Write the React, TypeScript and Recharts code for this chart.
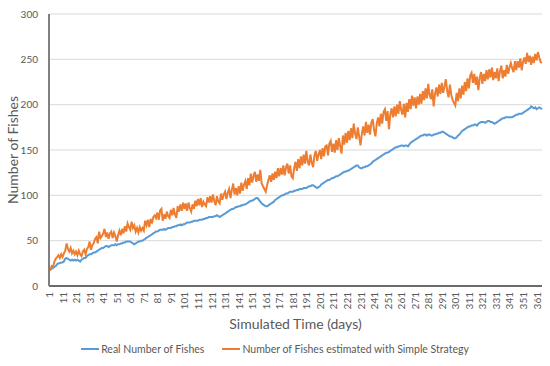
import React from "react";
import { LineChart, Line, XAxis, YAxis, CartesianGrid, Legend } from "recharts";

const realFishes: number[] = [
  17,18,19,20,21,22,24,25,25,26,
  26,27,30,31,30,29,28,29,28,29,
  28,29,28,27,29,30,31,31,33,34,
  35,35,36,37,37,38,39,40,41,42,
  42,43,44,44,43,44,45,45,45,46,
  45,46,46,47,47,48,48,49,49,49,
  49,48,47,46,47,48,49,49,50,50,
  51,52,53,54,55,56,57,58,59,60,
  60,61,62,62,62,63,62,63,64,64,
  64,65,65,66,66,67,67,68,67,68,
  68,69,70,70,70,71,71,72,72,72,
  72,73,73,73,74,74,75,75,76,76,
  76,76,77,77,78,77,76,77,78,79,
  80,81,82,83,84,85,85,86,87,87,
  88,88,89,89,90,90,91,92,93,94,
  94,95,96,97,97,95,93,91,90,89,
  88,88,89,90,91,92,93,95,96,97,
  98,99,100,100,101,102,102,103,104,104,
  104,105,105,106,106,107,107,107,108,108,
  108,109,110,110,111,111,110,109,108,109,
  110,112,113,114,115,116,117,117,118,119,
  119,120,121,121,122,123,124,125,126,126,
  127,127,128,129,130,131,132,133,133,131,
  130,130,131,131,132,132,133,134,135,137,
  138,139,140,141,142,143,144,145,146,147,
  147,148,149,150,151,152,153,153,154,154,
  155,155,154,155,155,154,156,158,159,160,
  161,162,163,164,165,166,166,167,167,166,
  167,167,166,166,167,167,168,168,169,169,
  170,170,169,168,167,166,165,165,164,163,
  163,164,166,167,169,171,172,173,174,175,
  176,176,177,177,178,178,177,179,180,181,
  181,181,180,181,182,182,181,181,180,179,
  180,181,182,183,184,185,185,186,186,186,
  186,186,186,187,188,189,189,190,190,190,
  191,192,193,194,195,196,198,197,196,197,
  195,196,197,196,195,
];

const estimatedFishes: number[] = [
  19,18,22,21,27,30,32,34,31,35,
  32,36,39,47,41,38,42,36,39,35,
  38,34,39,35,33,38,40,35,41,43,
  49,40,45,47,52,54,47,60,53,55,
  58,63,54,59,52,58,60,53,59,55,
  49,56,61,56,63,58,66,60,69,65,
  62,71,64,67,60,64,59,65,61,64,
  61,72,67,73,65,74,69,76,78,75,
  81,73,83,85,72,79,74,82,77,75,
  84,78,86,79,75,88,82,90,83,92,
  85,91,83,92,86,82,90,85,94,88,
  96,89,97,87,93,90,88,98,92,99,
  92,101,94,89,99,93,91,102,95,101,
  104,96,103,107,97,106,113,101,108,100,
  110,102,114,105,112,116,107,119,111,124,
  114,121,126,115,123,116,128,113,110,107,
  104,111,117,122,115,124,117,126,119,130,
  121,130,123,133,122,131,135,124,133,121,
  119,130,137,127,140,130,143,133,145,135,
  149,137,133,145,136,131,144,149,138,145,
  150,140,152,143,154,155,144,157,160,148,
  157,147,161,150,163,154,146,166,156,169,
  158,171,161,174,163,179,168,162,175,165,
  155,168,176,166,181,169,178,167,180,184,
  172,165,179,186,176,190,179,192,195,182,
  193,173,189,196,186,198,187,200,190,204,
  194,189,201,186,202,192,206,195,210,199,
  208,196,209,200,212,201,215,205,218,207,
  223,211,206,217,198,212,219,209,222,212,
  224,213,220,228,215,208,222,211,205,202,
  199,213,204,218,207,221,211,225,215,229,
  218,232,235,224,234,222,231,216,229,236,
  223,234,226,238,228,239,230,241,227,236,
  229,240,226,237,243,229,238,231,244,234,
  241,246,240,236,248,238,248,241,251,238,
  247,252,245,257,247,254,244,253,246,256,
  249,258,252,247,246,
];

const days: number[] = realFishes.map((_, i) => i + 1);
const yTicks: number[] = [0, 50, 100, 150, 200, 250, 300];

const seriesNames = {
  real: "Real Number of Fishes",
  est: "Number of Fishes estimated with Simple Strategy",
};

const data = days.map((d, i) => ({
  day: d,
  real: realFishes[i],
  est: estimatedFishes[i],
}));

const FONT = "Lato, 'Open Sans', sans-serif";
const TEXT = "#595959";
const BLUE = "#5B9BD5";
const ORANGE = "#ED7D31";

const XTick = (props: any) => {
  const { x, y, payload } = props;
  return (
    <text
      x={x}
      y={y}
      transform={`rotate(-90, ${x}, ${y})`}
      textAnchor="end"
      dominantBaseline="central"
      fontSize={10}
      fontFamily={FONT}
      fill={TEXT}
    >
      {payload.value}
    </text>
  );
};

const LegendContent = () => (
  <div
    style={{
      display: "flex",
      justifyContent: "center",
      alignItems: "center",
      fontFamily: FONT,
      fontSize: 10.5,
      color: TEXT,
      whiteSpace: "nowrap",
    }}
  >
    <span style={{ display: "inline-block", width: 18, height: 2, background: BLUE, marginRight: 2 }} />
    <span>{seriesNames.real}</span>
    <span style={{ display: "inline-block", width: 18, height: 2, background: ORANGE, marginLeft: 18, marginRight: 2 }} />
    <span>{seriesNames.est}</span>
  </div>
);

export default function App() {
  return (
    <div style={{ position: "absolute", left: 0, top: 0, width: 550, height: 366, background: "#fff" }}>
      <LineChart
        width={550}
        height={366}
        data={data}
        margin={{ top: 14, right: 8, bottom: 50, left: 19 }}
      >
        <CartesianGrid vertical={false} stroke="#d9d9d9" strokeWidth={1} />
        <XAxis
          dataKey="day"
          type="category"
          interval={9}
          height={30}
          tickLine={false}
          tickMargin={0}
          tick={<XTick />}
          axisLine={{ stroke: "#404040", strokeWidth: 1.5 }}
          label={{
            content: (p: any) => {
              const vb = p.viewBox;
              return (
                <text
                  x={vb.x + vb.width / 2}
                  y={323}
                  textAnchor="middle"
                  dominantBaseline="central"
                  fontSize={14}
                  fontFamily={FONT}
                  fill={TEXT}
                >
                  Simulated Time (days)
                </text>
              );
            },
          }}
        />
        <YAxis
          width={30}
          domain={[0, 300]}
          ticks={yTicks}
          interval={0}
          tickLine={false}
          tickMargin={5}
          tick={{ fontSize: 10, fontFamily: FONT, fill: TEXT }}
          axisLine={{ stroke: "#808080", strokeWidth: 2 }}
          label={{
            content: (p: any) => {
              const vb = p.viewBox;
              const cy = vb.y + vb.height / 2;
              return (
                <text
                  x={12}
                  y={cy}
                  transform={`rotate(-90, 12, ${cy})`}
                  textAnchor="middle"
                  dominantBaseline="central"
                  fontSize={14}
                  fontFamily={FONT}
                  fill={TEXT}
                >
                  Number of Fishes
                </text>
              );
            },
          }}
        />
        <Legend
          layout="horizontal"
          verticalAlign="middle"
          align="center"
          wrapperStyle={{ top: 343, left: 0, width: 550 }}
          content={<LegendContent />}
        />
        <Line
          type="linear"
          dataKey="real"
          name={seriesNames.real}
          stroke={BLUE}
          strokeWidth={2}
          dot={false}
          isAnimationActive={false}
        />
        <Line
          type="linear"
          dataKey="est"
          name={seriesNames.est}
          stroke={ORANGE}
          strokeWidth={2}
          dot={false}
          isAnimationActive={false}
        />
      </LineChart>
    </div>
  );
}
